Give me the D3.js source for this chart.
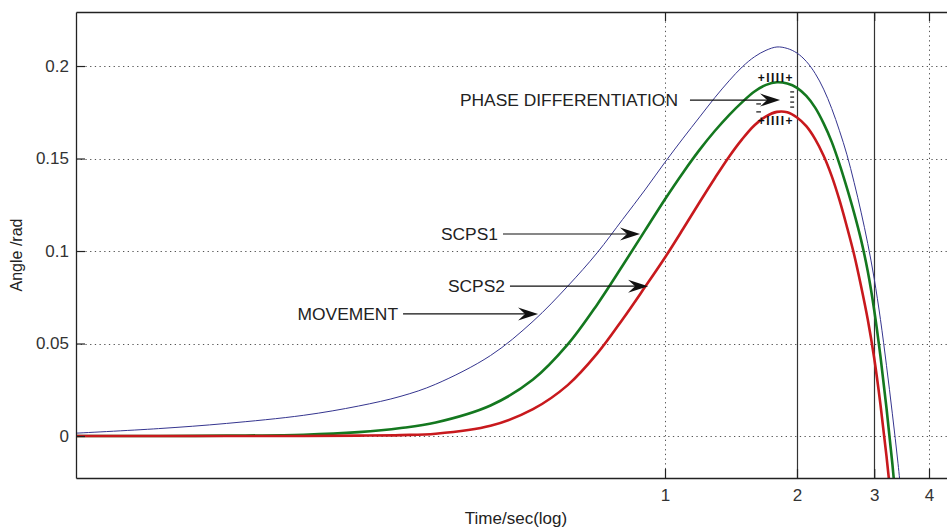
<!DOCTYPE html>
<html>
<head>
<meta charset="utf-8">
<script src="https://cdn.jsdelivr.net/npm/d3@7"></script>
<style>
  body { margin: 0; background: #fff; }
  text { font-family: "Liberation Sans", Arial, sans-serif; }
</style>
</head>
<body>
<svg id="chart" width="947" height="530"></svg>
<script>
// sample times (s), shared by all three curves
const time = [0.045, 0.07, 0.1, 0.15, 0.2, 0.25, 0.3, 0.4, 0.5, 0.6, 0.7, 0.8, 0.9, 1.0,
  1.1, 1.2, 1.3, 1.4, 1.5, 1.6, 1.7, 1.8, 1.9, 2.0, 2.1, 2.2, 2.3, 2.4, 2.5, 2.6, 2.7,
  2.8, 2.9, 3.0, 3.1, 3.2, 3.3, 3.4, 3.5];

// angle (rad)
const movement = [0.0015, 0.004, 0.0068, 0.0112, 0.0162, 0.0215, 0.028, 0.0435, 0.062, 0.081,
  0.099, 0.117, 0.133, 0.148, 0.161, 0.1725, 0.183, 0.192, 0.1995, 0.205, 0.2085, 0.2103,
  0.2095, 0.207, 0.2025, 0.196, 0.1875, 0.177, 0.165, 0.152, 0.137, 0.121, 0.104, 0.085,
  0.063, 0.038, 0.012, -0.015, -0.045];
const scps1 = [0, 0, 0.0002, 0.0007, 0.0021, 0.0043, 0.0073, 0.0165, 0.0305, 0.0495,
  0.071, 0.092, 0.111, 0.128, 0.1425, 0.1548, 0.165, 0.1735, 0.1805, 0.1862, 0.1898, 0.1912,
  0.1905, 0.1882, 0.1838, 0.1775, 0.169, 0.159, 0.147, 0.134, 0.1205, 0.106, 0.089, 0.068,
  0.043, 0.015, -0.015, -0.048, -0.085];
const scps2 = [0, 0, 0, 0, 0.0002, 0.0005, 0.0012, 0.0055, 0.0145, 0.0275,
  0.0445, 0.063, 0.0805, 0.0965, 0.112, 0.1265, 0.1395, 0.151, 0.1605, 0.168, 0.1728, 0.1752,
  0.175, 0.1722, 0.1675, 0.1605, 0.1515, 0.1405, 0.1275, 0.113, 0.098, 0.081, 0.063, 0.042,
  0.017, -0.011, -0.041, -0.075, -0.113];

// ticks
const xTicks = [1, 2, 3, 4];
const xTickLabels = ['1', '2', '3', '4'];
const yTicks = [0, 0.05, 0.1, 0.15, 0.2];
const yTickLabels = ['0', '0.05', '0.1', '0.15', '0.2'];

// solid marker lines
const markerTimes = [2, 3];

// annotations: label, arrow start/end time, angle
const notes = [
  { label: 'PHASE DIFFERENTIATION', from: 1.14, to: 1.83, at: 0.1816, gap: 12 },
  { label: 'SCPS1', from: 0.427, to: 0.877, at: 0.1092, gap: 5 },
  { label: 'SCPS2', from: 0.443, to: 0.915, at: 0.081, gap: 5 },
  { label: 'MOVEMENT', from: 0.2527, to: 0.5135, at: 0.066, gap: 5 }
];

const svg = d3.select('#chart');

const plotLeft = 76, plotTop = 12, plotBottom = 478, plotRight = 972;

const x = d3.scaleLog().domain([0.04537, 5]).range([plotLeft, plotRight - 0.5]);
const y = d3.scaleLinear().domain([-0.0227, 0.2292]).range([plotBottom, plotTop]);

svg.append('defs').append('clipPath')
  .attr('id', 'plot-clip')
  .append('rect')
  .attr('x', plotLeft)
  .attr('y', plotTop)
  .attr('width', plotRight - plotLeft)
  .attr('height', plotBottom - plotTop);

//dotted grid
const grid = svg.append('g')
  .attr('stroke', '#555')
  .attr('stroke-width', 1)
  .attr('stroke-dasharray', '1.3,3.4');

grid.selectAll('line.gy').data(yTicks).enter()
  .append('line')
  .attr('class', 'gy')
  .attr('x1', plotLeft)
  .attr('x2', plotRight)
  .attr('y1', d => Math.round(y(d)) + 0.5)
  .attr('y2', d => Math.round(y(d)) + 0.5);

grid.selectAll('line.gx').data(xTicks).enter()
  .append('line')
  .attr('class', 'gx')
  .attr('x1', d => Math.round(x(d)) + 0.5)
  .attr('x2', d => Math.round(x(d)) + 0.5)
  .attr('y1', plotTop)
  .attr('y2', plotBottom);

//solid vertical markers
svg.selectAll('line.marker').data(markerTimes).enter()
  .append('line')
  .attr('class', 'marker')
  .attr('x1', d => Math.round(x(d)) + 0.5)
  .attr('x2', d => Math.round(x(d)) + 0.5)
  .attr('y1', plotTop)
  .attr('y2', plotBottom)
  .attr('stroke', '#333')
  .attr('stroke-width', 1.2);

//curves
const line = d3.line()
  .x(d => x(d[0]))
  .y(d => y(d[1]))
  .curve(d3.curveCatmullRom.alpha(0.5));

const series = [
  { values: movement, color: '#35358f', width: 1 },
  { values: scps1, color: '#14781f', width: 2.6 },
  { values: scps2, color: '#c8191d', width: 2.6 }
];

svg.append('g')
  .attr('clip-path', 'url(#plot-clip)')
  .selectAll('path')
  .data(series)
  .enter()
  .append('path')
  .attr('fill', 'none')
  .attr('stroke', d => d.color)
  .attr('stroke-width', d => d.width)
  .attr('stroke-linejoin', 'round')
  .attr('d', d => line(time.map((t, i) => [t, d.values[i]])));

//axes
const xAxis = d3.axisBottom(x)
  .tickValues(xTicks)
  .tickFormat((d, i) => xTickLabels[i])
  .tickSizeInner(-9)
  .tickSizeOuter(0)
  .tickPadding(11);

const xAxisTop = d3.axisTop(x)
  .tickValues(xTicks)
  .tickFormat('')
  .tickSizeInner(-9)
  .tickSizeOuter(0);

const yAxis = d3.axisLeft(y)
  .tickValues(yTicks)
  .tickFormat((d, i) => yTickLabels[i])
  .tickSizeInner(-9)
  .tickSizeOuter(0)
  .tickPadding(7);

const xAxisGroup = svg.append('g')
  .attr('transform', `translate(0,${plotBottom})`)
  .call(xAxis);

const xAxisTopGroup = svg.append('g')
  .attr('transform', `translate(0,${plotTop})`)
  .call(xAxisTop);

const yAxisGroup = svg.append('g')
  .attr('transform', `translate(${plotLeft},0)`)
  .call(yAxis);

[xAxisGroup, xAxisTopGroup, yAxisGroup].forEach(g => {
  g.select('.domain').attr('stroke', '#222').attr('stroke-width', 1.3);
  g.selectAll('.tick line').attr('stroke', '#222').attr('stroke-width', 1.2);
  g.selectAll('.tick text')
    .attr('fill', '#333')
    .style('font-size', '17px')
    .style('font-family', '"Liberation Sans", Arial, sans-serif');
});

//axis titles
svg.append('text')
  .attr('x', 516)
  .attr('y', 524)
  .attr('text-anchor', 'middle')
  .attr('fill', '#222')
  .style('font-size', '17px')
  .text('Time/sec(log)');

svg.append('text')
  .attr('transform', 'translate(22,255) rotate(-90)')
  .attr('text-anchor', 'middle')
  .attr('fill', '#222')
  .style('font-size', '16px')
  .text('Angle /rad');

//annotations with arrows
const noteGroups = svg.selectAll('g.note').data(notes).enter()
  .append('g')
  .attr('class', 'note');

noteGroups.append('text')
  .attr('x', d => x(d.from) - d.gap)
  .attr('y', d => y(d.at))
  .attr('dy', '0.35em')
  .attr('text-anchor', 'end')
  .attr('fill', '#222')
  .style('font-size', '17.4px')
  .text(d => d.label);

noteGroups.append('line')
  .attr('x1', d => x(d.from))
  .attr('x2', d => x(d.to) - 12)
  .attr('y1', d => y(d.at))
  .attr('y2', d => y(d.at))
  .attr('stroke', '#111')
  .attr('stroke-width', 1.2);

noteGroups.append('path')
  .attr('transform', d => `translate(${x(d.to)},${y(d.at)})`)
  .attr('d', 'M0,0L-20,-6.5L-13,0L-20,6.5Z')
  .attr('fill', '#111');

//tick-mark bracket around the phase difference
const peakTime = 1.79;
const bracket = svg.append('g')
  .attr('fill', '#111')
  .style('font-size', '12px')
  .style('font-weight', 'bold')
  .attr('text-anchor', 'middle');

[0.1935, 0.1706].forEach(v => {
  bracket.append('text')
    .attr('x', x(peakTime))
    .attr('y', y(v))
    .attr('dy', '0.35em')
    .style('letter-spacing', '1.5px')
    .text('+IIII+');
});

[0.186, 0.1832, 0.1805, 0.1778].forEach(v => {
  bracket.append('line')
    .attr('x1', x(1.93))
    .attr('x2', x(1.97))
    .attr('y1', y(v))
    .attr('y2', y(v))
    .attr('stroke', '#111')
    .attr('stroke-width', 1.2);
});

[0.1795, 0.1752].forEach(v => {
  bracket.append('line')
    .attr('x1', x(1.615))
    .attr('x2', x(1.655))
    .attr('y1', y(v))
    .attr('y2', y(v))
    .attr('stroke', '#111')
    .attr('stroke-width', 1.2);
});
</script>
</body>
</html>
